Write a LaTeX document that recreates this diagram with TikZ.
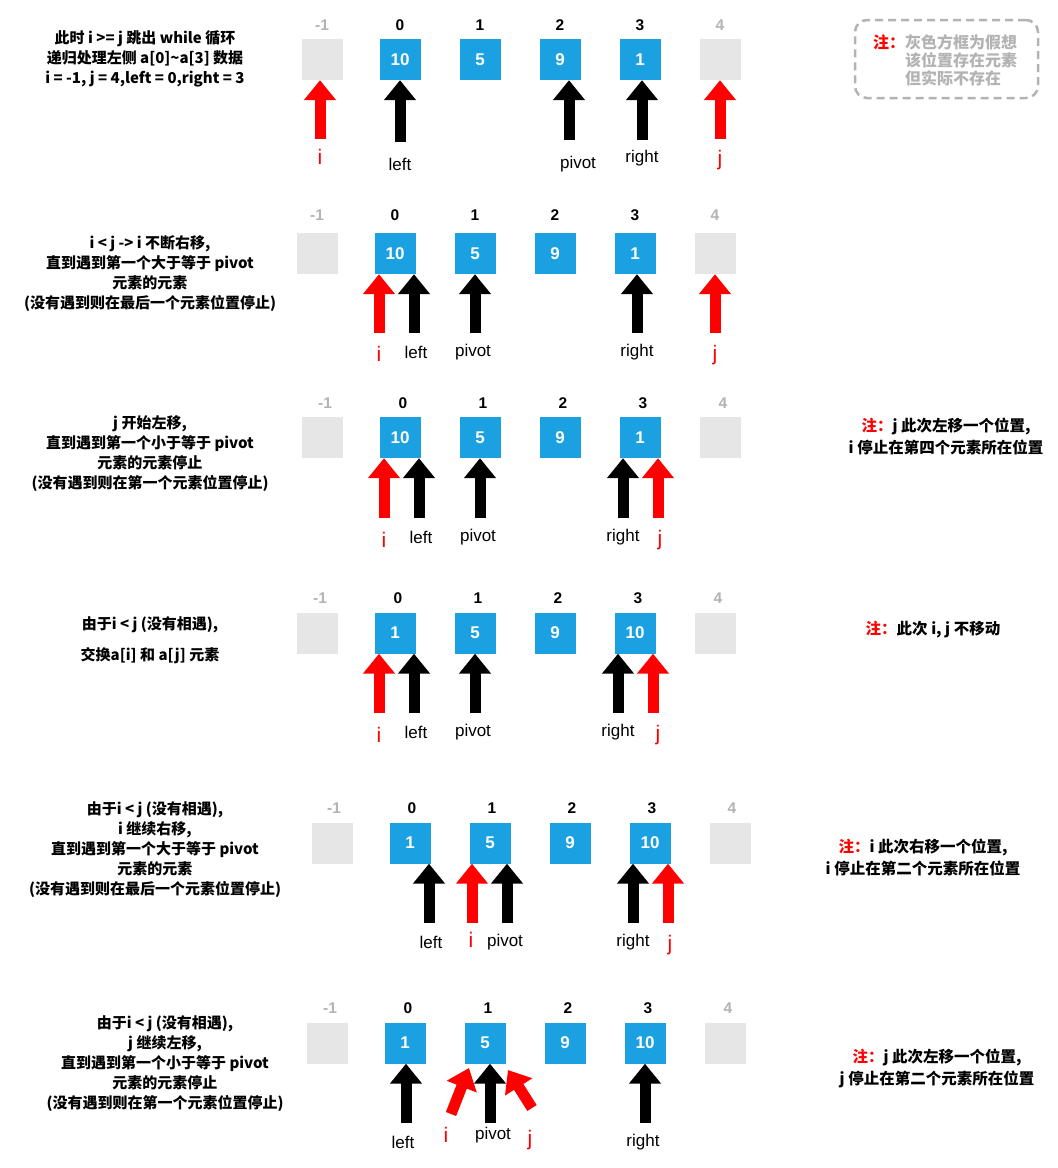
\documentclass[tikz,border=0pt]{standalone}
\usepackage{fontspec}
\setmainfont{Liberation Sans}
\newfontfamily\cjk{Noto Sans CJK SC}
\usetikzlibrary{arrows.meta}
\definecolor{boxblue}{HTML}{1BA1E2}
\definecolor{ghost}{HTML}{E6E6E6}
\definecolor{idxgray}{HTML}{B3B3B3}
\definecolor{notered}{HTML}{FF0000}
\tikzset{
 cell/.style={minimum width=41pt, minimum height=41pt, inner sep=0pt, fill=boxblue, text=white, font=\fontsize{17}{17}\selectfont\bfseries},
 ghostcell/.style={minimum width=41pt, minimum height=41pt, inner sep=0pt, fill=ghost},
 idx/.style={font=\fontsize{15.5}{15.5}\selectfont\bfseries, inner sep=0pt},
 ghostidx/.style={idx, text=idxgray},
 blackarrow/.style={line width=11pt, -{Triangle[width=31pt,length=20pt]}, draw=black},
 redarrow/.style={blackarrow, draw=notered},
 ptrlabel/.style={font=\fontsize{17}{17}\selectfont, inner sep=0pt},
 ijlabel/.style={font=\fontsize{21}{21}\selectfont, text=notered, inner sep=0pt},
 desc/.style={font=\cjk\fontsize{15}{20}\selectfont\bfseries, align=center, inner sep=0pt},
 note/.style={font=\cjk\fontsize{15.5}{22}\selectfont\bfseries, align=center, inner sep=0pt},
 notebox/.style={draw=idxgray, line width=2.5pt, dash pattern=on 8pt off 5pt, rounded corners=12pt, minimum width=183pt, minimum height=78pt},
}
\newcommand\zhu{{\color{notered}\bfseries 注：}}
% row of cells: #1 name, #2 x of col 0, #3 box y, #4 index y, #5 index shift, #6-#9 values
\newcommand\arrayrow[9]{%
 \node[ghostcell] (#1m1) at (#2-78,#3) {};
 \node[cell] (#1c0) at (#2,#3) {#6};
 \node[cell] (#1c1) at (#2+80,#3) {#7};
 \node[cell] (#1c2) at (#2+160,#3) {#8};
 \node[cell] (#1c3) at (#2+240,#3) {#9};
 \node[ghostcell] (#1c4) at (#2+320,#3) {};
 \node[ghostidx] (#1im1) at (#2-78+#5,#4) {-1};
 \node[idx] (#1i0) at (#2+#5,#4) {0};
 \node[idx] (#1i1) at (#2+80+#5,#4) {1};
 \node[idx] (#1i2) at (#2+160+#5,#4) {2};
 \node[idx] (#1i3) at (#2+240+#5,#4) {3};
 \node[ghostidx] (#1i4) at (#2+320+#5,#4) {4};
}
% pointer arrow: #1 style, #2 tail name, #3 x, #4 tail y, #5 target node
\newcommand\ptr[5]{%
 \coordinate (#2) at (#3,#4);
 \draw[#1] (#2) -- (#2 |- #5.south);
}
\begin{document}
\begin{tikzpicture}[x=1pt,y=-1pt]
\fill[white] (0,0) rectangle (1058,1168);
\useasboundingbox (0,0) rectangle (1058,1168);

% ---------- Row 1 ----------
\node[desc] (d1) at (145,59) {此时 i >= j 跳出 while 循环\\递归处理左侧 a[0]\textasciitilde a[3] 数据\\i = -1, j = 4,left = 0,right = 3};
\arrayrow{r1}{400}{59.5}{25}{0}{10}{5}{9}{1}
\ptr{redarrow}{r1ti}{320}{139}{r1m1}
\ptr{blackarrow}{r1tl}{400}{142}{r1c0}
\ptr{blackarrow}{r1tp}{569}{140}{r1c2}
\ptr{blackarrow}{r1tr}{642}{140}{r1c3}
\ptr{redarrow}{r1tj}{720}{139}{r1c4}
\node[ijlabel] (r1li) at (320,157) {i};
\node[ptrlabel] (r1ll) at (400,164) {left};
\node[ptrlabel] (r1lp) at (578,164) {pivot};
\node[ptrlabel] (r1lr) at (642,158) {right};
\node[ijlabel] (r1lj) at (720,160) {j};
\node[notebox] (n1box) at (946.5,59) {};
\node[font=\cjk\fontsize{16}{18}\selectfont\bfseries, text=idxgray, align=left, inner sep=0pt, anchor=west] (n1) at (873,60) {\zhu 灰色方框为假想\\\phantom{注：}该位置存在元素\\\phantom{注：}但实际不存在};

% ---------- Row 2 ----------
\node[desc] (d2) at (150,274) {i < j -> i 不断右移,\\直到遇到第一个大于等于 pivot\\元素的元素\\(没有遇到则在最后一个元素位置停止)};
\arrayrow{r2}{395}{253.5}{215}{0}{10}{5}{9}{1}
\ptr{redarrow}{r2ti}{379}{333}{r2c0}
\ptr{blackarrow}{r2tl}{414}{333}{r2c0}
\ptr{blackarrow}{r2tp}{475}{333}{r2c1}
\ptr{blackarrow}{r2tr}{637}{333}{r2c3}
\ptr{redarrow}{r2tj}{715}{333}{r2c4}
\node[ijlabel] (r2li) at (379,354) {i};
\node[ptrlabel] (r2ll) at (416,352) {left};
\node[ptrlabel] (r2lp) at (473,352) {pivot};
\node[ptrlabel] (r2lr) at (637,352) {right};
\node[ijlabel] (r2lj) at (715,355) {j};

% ---------- Row 3 ----------
\node[desc] (d3) at (150,454) {j 开始左移,\\直到遇到第一个小于等于 pivot\\元素的元素停止\\(没有遇到则在第一个元素位置停止)};
\arrayrow{r3}{400}{437.5}{403}{3}{10}{5}{9}{1}
\ptr{redarrow}{r3ti}{384}{518}{r3c0}
\ptr{blackarrow}{r3tl}{419}{518}{r3c0}
\ptr{blackarrow}{r3tp}{480}{518}{r3c1}
\ptr{blackarrow}{r3tr}{623}{518}{r3c3}
\ptr{redarrow}{r3tj}{658}{518}{r3c3}
\node[ijlabel] (r3li) at (384,540) {i};
\node[ptrlabel] (r3ll) at (421,537) {left};
\node[ptrlabel] (r3lp) at (478,537) {pivot};
\node[ptrlabel] (r3lr) at (623,537) {right};
\node[ijlabel] (r3lj) at (660,540) {j};
\node[note] (n3) at (946,437) {\zhu j 此次左移一个位置,\\i 停止在第四个元素所在位置};

% ---------- Row 4 ----------
\node[desc] (d4) at (150,640) {由于i < j (没有相遇),\\[11pt]交换a[i] 和 a[j] 元素};
\arrayrow{r4}{395}{633}{598}{3}{1}{5}{9}{10}
\ptr{redarrow}{r4ti}{379}{713}{r4c0}
\ptr{blackarrow}{r4tl}{414}{713}{r4c0}
\ptr{blackarrow}{r4tp}{475}{713}{r4c1}
\ptr{blackarrow}{r4tr}{618}{713}{r4c3}
\ptr{redarrow}{r4tj}{653}{713}{r4c3}
\node[ijlabel] (r4li) at (379,735) {i};
\node[ptrlabel] (r4ll) at (416,732) {left};
\node[ptrlabel] (r4lp) at (473,732) {pivot};
\node[ptrlabel] (r4lr) at (618,732) {right};
\node[ijlabel] (r4lj) at (658,735) {j};
\node[note] (n4) at (933,630) {\zhu 此次 i, j 不移动};

% ---------- Row 5 ----------
\node[desc] (d5) at (155,850) {由于i < j (没有相遇),\\i 继续右移,\\直到遇到第一个大于等于 pivot\\元素的元素\\(没有遇到则在最后一个元素位置停止)};
\arrayrow{r5}{410}{843}{808}{2}{1}{5}{9}{10}
\ptr{blackarrow}{r5tl}{429}{923}{r5c0}
\ptr{redarrow}{r5ti}{472}{923}{r5c1}
\ptr{blackarrow}{r5tp}{507}{923}{r5c1}
\ptr{blackarrow}{r5tr}{633}{923}{r5c3}
\ptr{redarrow}{r5tj}{668}{923}{r5c3}
\node[ptrlabel] (r5ll) at (431,942) {left};
\node[ijlabel] (r5li) at (471,940) {i};
\node[ptrlabel] (r5lp) at (505,942) {pivot};
\node[ptrlabel] (r5lr) at (633,942) {right};
\node[ijlabel] (r5lj) at (670,945) {j};
\node[note] (n5) at (923,858) {\zhu i 此次右移一个位置,\\i 停止在第二个元素所在位置};

% ---------- Row 6 ----------
\node[desc] (d6) at (165,1064) {由于i < j (没有相遇),\\j 继续左移,\\直到遇到第一个小于等于 pivot\\元素的元素停止\\(没有遇到则在第一个元素位置停止)};
\arrayrow{r6}{405}{1043}{1008}{3}{1}{5}{9}{10}
\ptr{blackarrow}{r6tl}{406}{1123}{r6c0}
\ptr{blackarrow}{r6tp}{490}{1123}{r6c1}
\ptr{blackarrow}{r6tr}{645}{1123}{r6c3}
\coordinate (r6ti) at (451,1114);
\coordinate (r6hi) at (469,1068);
\draw[redarrow] (r6ti) -- (r6hi);
\coordinate (r6tj) at (532,1108);
\coordinate (r6hj) at (508,1070);
\draw[redarrow] (r6tj) -- (r6hj);
\node[ptrlabel] (r6ll) at (403,1142) {left};
\node[ijlabel] (r6li) at (446,1135) {i};
\node[ptrlabel] (r6lp) at (493,1135) {pivot};
\node[ijlabel] (r6lj) at (530,1140) {j};
\node[ptrlabel] (r6lr) at (643,1142) {right};
\node[note] (n6) at (937,1068) {\zhu j 此次左移一个位置,\\j 停止在第二个元素所在位置};
\end{tikzpicture}
\end{document}
